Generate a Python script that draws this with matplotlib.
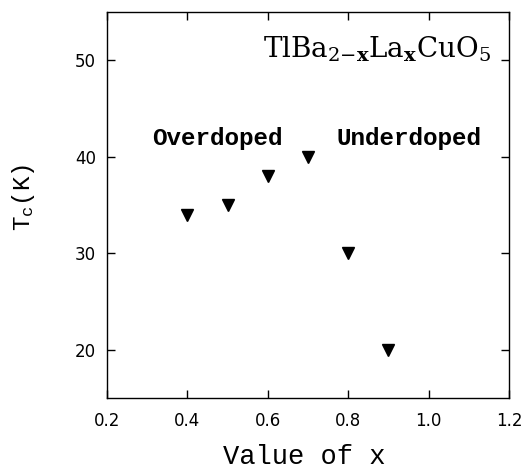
import matplotlib
matplotlib.use("Agg")
import matplotlib.pyplot as plt

# data
x_vals = [0.4, 0.5, 0.6, 0.7, 0.8, 0.9]
tc_vals = [34, 35, 38, 40, 30, 20]
x_ticks = [0.2, 0.4, 0.6, 0.8, 1.0, 1.2]
y_ticks = [20, 30, 40, 50]

plt.rcParams["mathtext.fontset"] = "dejavuserif"

fig = plt.figure(figsize=(5.23, 4.72), dpi=100)
ax = fig.add_axes([0.2046, 0.1568, 0.7686, 0.8178])

ax.plot(x_vals, tc_vals, linestyle="none", marker="v", color="black",
        markersize=8)

ax.set_xlim(0.2, 1.2)
ax.set_ylim(15, 55)
ax.set_xticks(x_ticks)
ax.set_yticks(y_ticks)
ax.set_xticklabels([f"{v:.1f}" for v in x_ticks], fontsize=12,
                   family="DejaVu Sans")
ax.set_yticklabels([str(v) for v in y_ticks], fontsize=12,
                   family="DejaVu Sans")
ax.tick_params(direction="in", length=5.5, width=1, top=True, right=True)
ax.tick_params(axis="x", pad=10)
ax.tick_params(axis="y", pad=8)
for s in ax.spines.values():
    s.set_linewidth(1)

ax.set_xlabel("Value of x", fontsize=19.5, family="Liberation Mono")
ax.xaxis.set_label_coords(0.49, -0.12)
ax.set_ylabel(r"T$_\mathregular{c}$(K)", fontsize=17.5,
              family="Liberation Mono")
ax.yaxis.set_label_coords(-0.175, 0.52)

ax.text(0.312, 41.9, "Overdoped", fontsize=17.5, family="Liberation Mono",
        fontweight="bold", va="center", ha="left")
ax.text(0.772, 41.9, "Underdoped", fontsize=17.5, family="Liberation Mono",
        fontweight="bold", va="center", ha="left")
ax.text(1.155, 50.3,
        r"TlBa$_{2\mathregular{-}\mathbf{x}}$La$_\mathbf{x}$CuO$_5$",
        fontsize=20, family="DejaVu Serif", ha="right", va="baseline")

fig.savefig("out.png", dpi=100)
